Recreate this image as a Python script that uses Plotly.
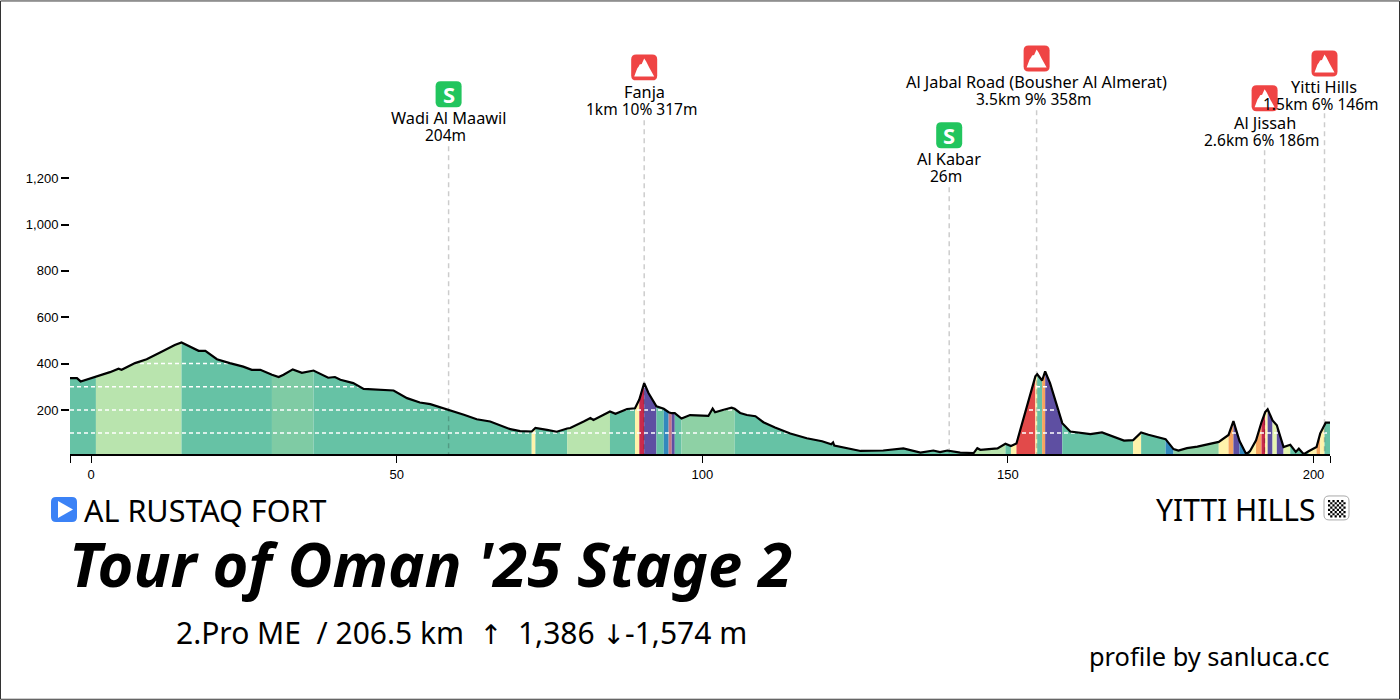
import plotly.graph_objects as go

km = [-3.44,-2.3,-1.7,0.8,3.1,4.5,5.0,7.2,9.1,11.3,13.7,14.8,16.5,17.6,18.7,20.6,22.7,24.9,26.3,27.7,29.6,30.7,31.5,33.0,34.5,36.4,38.8,39.9,40.8,42.9,44.6,47.3,49.5,51.7,53.8,55.5,58.5,61.0,63.1,65.3,68.6,70.2,72.1,72.7,74.6,76.2,77.9,78.4,80.6,81.7,82.2,84.9,85.8,87.7,89.0,89.7,90.5,91.2,92.5,93.7,94.5,95.0,95.5,96.6,98.0,99.7,101.0,101.7,102.1,103.5,104.8,105.3,106.2,107.3,108.7,110.0,111.9,114.4,117.1,119.6,121.1,121.4,121.6,125.9,129.6,132.9,135.7,137.8,138.9,140.1,142.2,144.4,145.0,145.5,148.3,149.6,150.5,151.4,154.5,154.8,155.6,156.1,156.9,158.9,160.2,163.5,165.4,169.0,170.5,171.8,173.0,175.8,177.1,177.9,179.3,181.0,184.5,186.1,186.9,187.9,189.0,189.6,190.6,191.5,192.1,192.5,193.3,194.0,195.1,196.2,197.1,197.6,198.4,199.2,200.5,201.1,201.8,202.0,202.7]
elevation = [337,337,323,343,363,378,373,402,419,448,480,491,467,455,455,419,402,387,373,373,352,342,352,375,360,370,339,342,330,316,291,287,284,251,232,225,201,179,160,150,117,109,107,122,114,106,120,122,150,165,157,193,183,204,207,245,316,273,216,205,190,186,186,163,178,177,174,206,190,201,210,205,187,178,173,147,124,98,78,65,52,60,46,23,25,34,16,25,18,25,16,14,35,28,34,54,44,55,345,354,327,366,316,143,107,96,103,68,70,103,93,74,31,25,35,42,62,92,152,66,9,22,69,148,191,203,155,134,40,50,19,33,9,22,40,99,134,145,145]
assert len(km) == len(elevation)

TEAL, LIGHT, MID, SOFT = "#66c2a5", "#b9e4ae", "#7fcba4", "#8ed1a5"
YEL, ORA, RED, CRIM, PUR, BLU = "#fff3ab", "#f6a45f", "#e24a4a", "#c92a4b", "#5e4fa2", "#3288bd"
MAUVE, PALE = "#c57a86", "#e4f4b0"
grade_ends = [0.8,14.8,29.6,36.4,72.1,72.7,77.9,84.9,89.0,89.7,90.5,92.5,93.7,94.5,95.0,95.5,96.6,105.3,144.4,149.6,150.5,151.4,154.5,154.8,155.6,156.1,158.9,170.5,171.8,175.8,177.1,184.5,186.1,186.9,187.9,189.0,189.6,190.6,191.5,192.1,192.5,193.3,194.0,195.1,196.2,199.2,200.5,201.1,201.8,202.7]
grade_colors = [TEAL,LIGHT,TEAL,MID,TEAL,YEL,TEAL,LIGHT,TEAL,YEL,CRIM,PUR,TEAL,BLU,MAUVE,PUR,TEAL,SOFT,TEAL,LIGHT,TEAL,YEL,RED,YEL,TEAL,ORA,PUR,TEAL,YEL,TEAL,BLU,SOFT,YEL,ORA,PUR,BLU,TEAL,YEL,ORA,CRIM,YEL,PUR,PALE,PUR,PALE,TEAL,YEL,ORA,YEL,TEAL]

climb_km = [58.5, 90.5, 140.4, 154.7, 192.0, 201.8]
climb_line1 = ["Wadi Al Maawil", "Fanja", "Al Kabar", "Al Jabal Road (Bousher Al Almerat)", "Al Jissah", "Yitti Hills"]
climb_line2 = ["204m", "1km 10% 317m", "26m", "3.5km 9% 358m", "2.6km 6% 186m", "1.5km 6% 146m"]
climb_kind = ["S", "M", "S", "M", "M", "M"]
icon_py = [94, 67, 135, 58, 98, 63]
line1_py = [118, 92, 159, 82, 123, 87]
line2_dx = [-3, -3, -3, -3, -3, -3]
guide_top_py = [146, 120, 187, 110, 150, 113]

y_ticks = [200, 400, 600, 800, 1000, 1200]
x_ticks = [0, 50, 100, 150, 200]
grid_levels = [100, 200, 300, 400]

W, H = 1400, 700
L, R = 70, 1330
ZERO_PY, PX_PER_M = 456.3, 0.232
BOTTOM_PY = 454.0
YMAX = 1300
YMIN = (ZERO_PY - BOTTOM_PY) / PX_PER_M
TOP_PY = ZERO_PY - YMAX * PX_PER_M
XMIN, XMAX = km[0], km[-1]
FONT = "Noto Sans"

def px(v):
    return (v - L) / (R - L)
def py(v):
    return (BOTTOM_PY - v) / (BOTTOM_PY - TOP_PY)
def km_px(k):
    return L + (k - XMIN) / (XMAX - XMIN) * (R - L)

fig = go.Figure()

start = km[0]
for end, col in zip(grade_ends, grade_colors):
    xs = [k for k in km if start <= k <= end]
    ys = [e for k, e in zip(km, elevation) if start <= k <= end]
    fig.add_trace(go.Scatter(x=xs, y=ys, mode="lines", line=dict(width=0.5, color=col), fill="tozeroy", fillcolor=col, hoverinfo="skip", showlegend=False))
    start = end

for lv in grid_levels:
    fig.add_trace(go.Scatter(x=[XMIN, XMAX], y=[lv, lv], mode="lines", line=dict(color="white", width=1.5, dash="4px,3px"), hoverinfo="skip", showlegend=False))

fig.add_trace(go.Scatter(x=km, y=elevation, mode="lines", line=dict(color="black", width=2.2), hoverinfo="skip", showlegend=False))

shapes, annots = [], []

def rrect(x0, y0, x1, y1, r):
    return (f"M{px(x0+r)},{py(y0)} L{px(x1-r)},{py(y0)} Q{px(x1)},{py(y0)} {px(x1)},{py(y0+r)} "
            f"L{px(x1)},{py(y1-r)} Q{px(x1)},{py(y1)} {px(x1-r)},{py(y1)} L{px(x0+r)},{py(y1)} "
            f"Q{px(x0)},{py(y1)} {px(x0)},{py(y1-r)} L{px(x0)},{py(y0+r)} Q{px(x0)},{py(y0)} {px(x0+r)},{py(y0)} Z")

def poly(pts):
    return "M" + " L".join(f"{px(a)},{py(b)}" for a, b in pts) + " Z"

def add_path(path, fill, line=None, width=0):
    shapes.append(dict(type="path", xref="paper", yref="paper", path=path, fillcolor=fill, line=dict(color=line or fill, width=width), layer="above"))

def text(x, y, s, size, anchor="center", color="black", family=FONT, **kw):
    annots.append(dict(xref="paper", yref="paper", x=px(x), y=py(y), text=s, showarrow=False, xanchor=anchor, yanchor="middle",
                       font=dict(family=family, size=size, color=color, **kw), borderpad=0))

for k, a, b, kind, ipy, lpy, dx, gt in zip(climb_km, climb_line1, climb_line2, climb_kind, icon_py, line1_py, line2_dx, guide_top_py):
    cx = km_px(k)
    shapes.append(dict(type="line", xref="x", yref="paper", x0=k, x1=k, y0=py(gt), y1=py(BOTTOM_PY), layer="above",
                       line=dict(color="rgba(0,0,0,0.2)", width=1.5, dash="5px,4px")))
    if kind == "S":
        add_path(rrect(cx-13, ipy-13, cx+13, ipy+13, 5), "#22c55e")
        text(cx, ipy, "<b>S</b>", 22, color="white")
    else:
        add_path(rrect(cx-13, ipy-13, cx+13, ipy+13, 5), "#ef4444")
        add_path(poly([(cx-10, ipy+9), (cx-7, ipy+1), (cx-5.5, ipy-1), (cx-4.5, ipy-3), (cx-2.5, ipy-3.5), (cx, ipy-9),
                       (cx+2, ipy-6), (cx+5, ipy), (cx+10, ipy+9)]), "white")
    text(cx, lpy, a, 16.3)
    text(cx + dx, lpy + 17, b, 15.5)

add_path(rrect(51, 497, 77, 522, 5), "#3b82f6")
add_path(poly([(58, 501), (58, 518), (73, 509.5)]), "white")

add_path(rrect(1324, 496, 1349, 520, 5), "white", "#aaaaaa", 1)
checks = ""
for i in range(8):
    for j in range(8):
        if (i + j) % 2 == 0:
            a, b = 1328 + i * 2.2, 500 + j * 2.2
            checks += poly([(a, b), (a+2.2, b), (a+2.2, b+2.2), (a, b+2.2)]) + " "
add_path(checks, "black")

ARROW = '<span style="font-family:DejaVu Sans;font-size:27px">%s</span>'
text(83, 510, "AL RUSTAQ FORT", 30.5, anchor="left")
text(1316, 510, "YITTI HILLS", 30, anchor="right")
text(68, 563, "Tour of Oman '25 Stage 2", 61.5, anchor="left", weight=700, style="italic")
text(175, 633, "2.Pro ME\u00a0\u00a0/\u00a0206.5 km\u00a0\u00a0" + ARROW % "↑" + "\u00a0\u00a01,386\u00a0" + ARROW % "↓" + "-1,574 m", 30, anchor="left")
text(1330, 656, "profile by sanluca.cc", 25.4, anchor="right")

shapes.append(dict(type="rect", xref="paper", yref="paper", x0=px(0.5), x1=px(1399.5), y0=py(0.5), y1=py(699.5), line=dict(color="#333333", width=1), layer="below"))

tickfont = dict(family="Liberation Sans", size=13, color="black")
fig.update_layout(
    width=W, height=H, autosize=False, paper_bgcolor="white", plot_bgcolor="white", showlegend=False,
    margin=dict(l=L, r=W-R, t=TOP_PY, b=H-BOTTOM_PY, pad=0),
    shapes=shapes, annotations=annots,
    xaxis=dict(range=[XMIN, XMAX], tickvals=[XMIN]+x_ticks+[XMAX], ticktext=[""]+[str(t) for t in x_ticks]+[""], ticks="outside", ticklen=7, tickwidth=1.2, tickcolor="black",
               showline=True, linecolor="black", linewidth=2, showgrid=False, zeroline=False, tickfont=tickfont),
    yaxis=dict(range=[YMIN, YMAX], tickvals=y_ticks, ticktext=[f"{t:,}" for t in y_ticks], ticks="outside", ticklen=8, tickwidth=1.5, tickcolor="black",
               showline=False, showgrid=False, zeroline=False, tickfont=tickfont),
)
fig.write_html("out.html", post_script="document.body.style.margin='0';", config={"displayModeBar": False})
